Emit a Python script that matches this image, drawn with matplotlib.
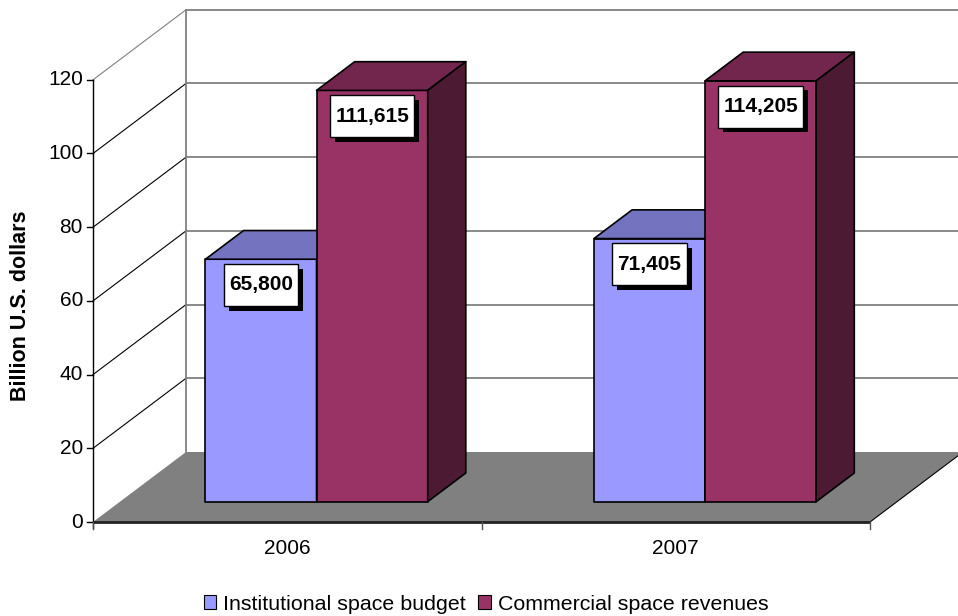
import matplotlib.pyplot as plt
from matplotlib.patches import Polygon, Patch
from matplotlib.path import Path
from matplotlib import patheffects as pe

plt.rcParams['font.family'] = ['Liberation Sans', 'DejaVu Sans']

years = ['2006', '2007']
institutional = [65.800, 71.405]
commercial = [111.615, 114.205]
series_names = ['Institutional space budget', 'Commercial space revenues']
yticks = [0, 20, 40, 60, 80, 100, 120]

# face colours: front, top, side
blue = ('#9999FF', '#7373BF', '#4D4D80')
wine = ('#993366', '#73264D', '#4D1A33')

fig = plt.figure(figsize=(9.58, 6.16), dpi=100)
ax = fig.add_axes([0, 0, 1, 1])

# pixel scale of the front plane
X0, XS = 93, 388.5      # x origin (px), px per category
Y0, YS = 522, 3.685     # y origin (px from top), px per unit
W, H = 958, 616
ax.set_xlim(-X0 / XS, (W - X0) / XS)
ax.set_ylim(-(H - Y0) / YS, Y0 / YS)
ax.axis('off')

# oblique depth offset for the full depth of the plot box
DX, DY = 93 / XS, 70 / YS
ncat = len(years)
ymax = yticks[-1]

# floor
ax.add_patch(Polygon([(0, 0), (ncat, 0), (ncat + DX, DY), (DX, DY)],
                     closed=True, fc='#808080', ec='none', zorder=1))
ax.plot([ncat, ncat + DX], [0, DY], color='black', lw=0.8, zorder=2)
ax.plot([0, ncat], [0, 0], color='#222222', lw=2, zorder=2, solid_capstyle='butt')

# back wall and side wall grid
for v in yticks[1:]:
    ax.plot([DX, ncat + DX + 0.5], [v + DY, v + DY], color='#808080', lw=1.3, zorder=1)
    c = '#808080' if v == ymax else 'black'
    ax.plot([0, DX], [v, v + DY], color=c, lw=0.8, zorder=1)
ax.plot([DX, DX], [DY, ymax + DY], color='#808080', lw=1.3, zorder=1)

# value axis
ax.plot([0, 0], [-6 / YS, ymax], color='black', lw=1, zorder=2)
for v in yticks:
    ax.plot([-6 / XS, 0], [v, v], color='black', lw=1, zorder=2)
    ax.text(-10 / XS, v, str(v), ha='right', va='center', fontsize=15)

# category axis
for i in range(ncat + 1):
    ax.plot([i, i], [0, -7 / YS], color='#555555', lw=1, zorder=2)
for i, yr in enumerate(years):
    ax.text(i + 0.5, -26 / YS, yr, ha='center', va='center', fontsize=15)

ax.text(-72 / XS, (Y0 - 306) / YS, 'Billion U.S. dollars', rotation=90,
        ha='center', va='center', fontsize=15.5, fontweight='bold')


def label_box(x0, y0, width, height, mutation_size):
    # plain rectangle, taller than it is padded sideways
    px, py = 0.25 * mutation_size, 0.55 * mutation_size
    xa, xb = x0 - px, x0 + width + px
    ya, yb = y0 - py, y0 + height + py
    return Path([(xa, ya), (xb, ya), (xb, yb), (xa, yb), (xa, ya)],
                [Path.MOVETO, Path.LINETO, Path.LINETO, Path.LINETO, Path.CLOSEPOLY])


F1, F2 = 0.29, 0.70   # bar depth span
BW = 0.286


def bar3d(x0, h, cols):
    x1 = x0 + BW
    front = [(x0 + F1 * DX, F1 * DY), (x1 + F1 * DX, F1 * DY),
             (x1 + F1 * DX, h + F1 * DY), (x0 + F1 * DX, h + F1 * DY)]
    top = [(x0 + F1 * DX, h + F1 * DY), (x1 + F1 * DX, h + F1 * DY),
           (x1 + F2 * DX, h + F2 * DY), (x0 + F2 * DX, h + F2 * DY)]
    side = [(x1 + F1 * DX, F1 * DY), (x1 + F2 * DX, F2 * DY),
            (x1 + F2 * DX, h + F2 * DY), (x1 + F1 * DX, h + F1 * DY)]
    for pts, c in zip((front, top, side), cols):
        ax.add_patch(Polygon(pts, closed=True, fc=c, ec='black', lw=1.2,
                             joinstyle='round', zorder=3))
    # value label on the front face, with a drop shadow
    cx = (x0 + x1) / 2 + F1 * DX
    cy = h + F1 * DY
    txt = f'{h:.3f}'.replace('.', ',')
    t = ax.annotate(txt, (cx, cy), xytext=(0, -18.5), textcoords='offset points',
                    ha='center', va='center', fontsize=15, fontweight='bold',
                    color='black', zorder=5,
                    bbox=dict(boxstyle=label_box, fc='white', ec='black', lw=1))
    t.get_bbox_patch().set_path_effects([
        pe.SimplePatchShadow(offset=(3.5, -3.5), shadow_rgbFace='black', alpha=1),
        pe.Normal()])


for i in range(ncat):
    bar3d(i + 0.22, institutional[i], blue)
    bar3d(i + 0.22 + BW, commercial[i], wine)

handles = [Patch(fc=blue[0], ec='black', lw=0.8), Patch(fc=wine[0], ec='black', lw=0.8)]
fig.legend(handles, series_names, loc='center', bbox_to_anchor=(486 / W, 1 - 604 / H),
           ncol=2, frameon=False, handlelength=0.6, handleheight=0.6,
           handletextpad=0.3, columnspacing=0.6, fontsize=15.4)

fig.savefig('out.png', dpi=100)
